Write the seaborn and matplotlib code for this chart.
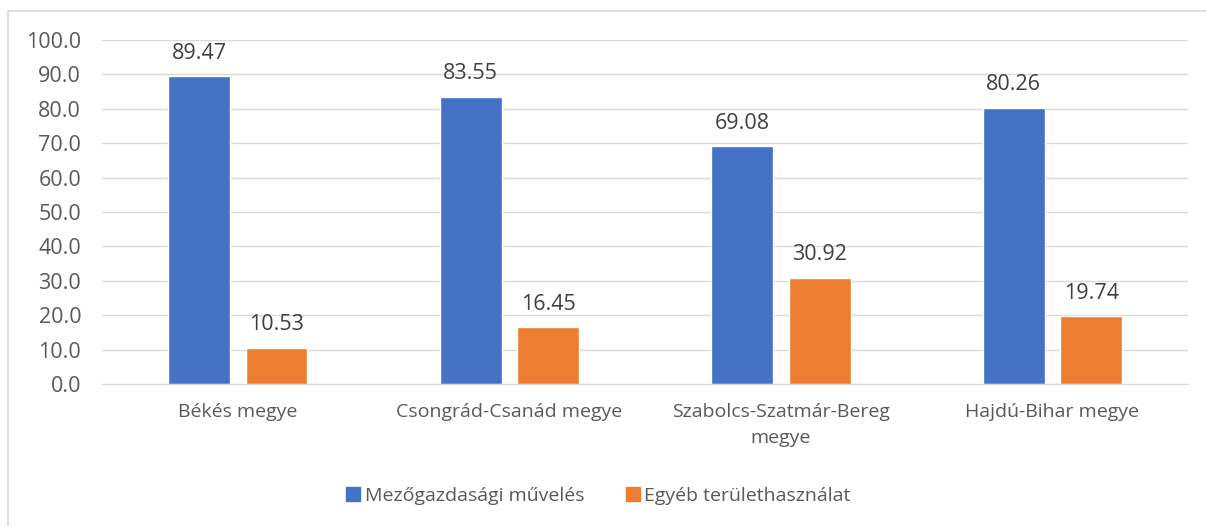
import pandas as pd
import matplotlib.pyplot as plt
import seaborn as sns
from matplotlib.patches import Rectangle
from matplotlib.lines import Line2D

# data
counties = ["Békés megye", "Csongrád-Csanád megye", "Szabolcs-Szatmár-Bereg\nmegye", "Hajdú-Bihar megye"]
agri = [89.47, 83.55, 69.08, 80.26]
other = [10.53, 16.45, 30.92, 19.74]
series_names = ["Mezőgazdasági művelés", "Egyéb területhasználat"]
yticks = [0, 10, 20, 30, 40, 50, 60, 70, 80, 90, 100]

df = pd.DataFrame({
    "county": counties * 2,
    "value": agri + other,
    "series": [series_names[0]] * 4 + [series_names[1]] * 4,
})

sns.set_style("white")
plt.rcParams['font.family'] = ['Open Sans', 'DejaVu Sans']
text_col = "#595959"
colors = ["#4472C4", "#ED7D31"]
fs = 14
fs_num = 15.5

fig = plt.figure(figsize=(12.06, 5.26), dpi=100)
ax = fig.add_axes([0.0846, 0.270, 0.9006, 0.654])

sns.barplot(data=df, x="county", y="value", hue="series", palette=colors,
            width=0.57, gap=0.2, ax=ax, legend=False, saturation=1)

for cont in ax.containers:
    ax.bar_label(cont, fmt="%.2f", padding=9, fontsize=fs_num, color="#404040")

ax.set_ylim(0, 100)
ax.set_yticks(yticks)
ax.set_yticklabels([f"{v:.1f}" for v in yticks])
ax.yaxis.grid(True, color="#d9d9d9", linewidth=1)
ax.set_axisbelow(True)
for s in ["top", "right", "left"]:
    ax.spines[s].set_visible(False)
ax.spines["bottom"].set_color("#d9d9d9")
ax.tick_params(axis="both", length=0, labelsize=fs, labelcolor=text_col)
ax.tick_params(axis="y", pad=15, labelsize=fs_num)
ax.tick_params(axis="x", pad=14)
for lbl in ax.get_xticklabels():
    lbl.set_linespacing(1.55)
ax.set_xlabel("")
ax.set_ylabel("")
ax.set_xlim(-0.5, 3.5)

handles = [Line2D([0], [0], marker="s", linestyle="", markersize=10,
                  markerfacecolor=c, markeredgecolor=c) for c in colors]
fig.legend(handles, series_names, loc="center", bbox_to_anchor=(0.495, 0.057),
           ncol=2, frameon=False, fontsize=fs, labelcolor=text_col,
           handletextpad=0.1, columnspacing=2.0, handlelength=1.0)

# outer chart border
fig.patches.append(Rectangle((8 / 1206, -0.02), 1.1, 0.979 + 0.02, transform=fig.transFigure,
                             fill=False, edgecolor="#d9d9d9", linewidth=1.2, clip_on=False))

fig.savefig("out.png", dpi=100)
